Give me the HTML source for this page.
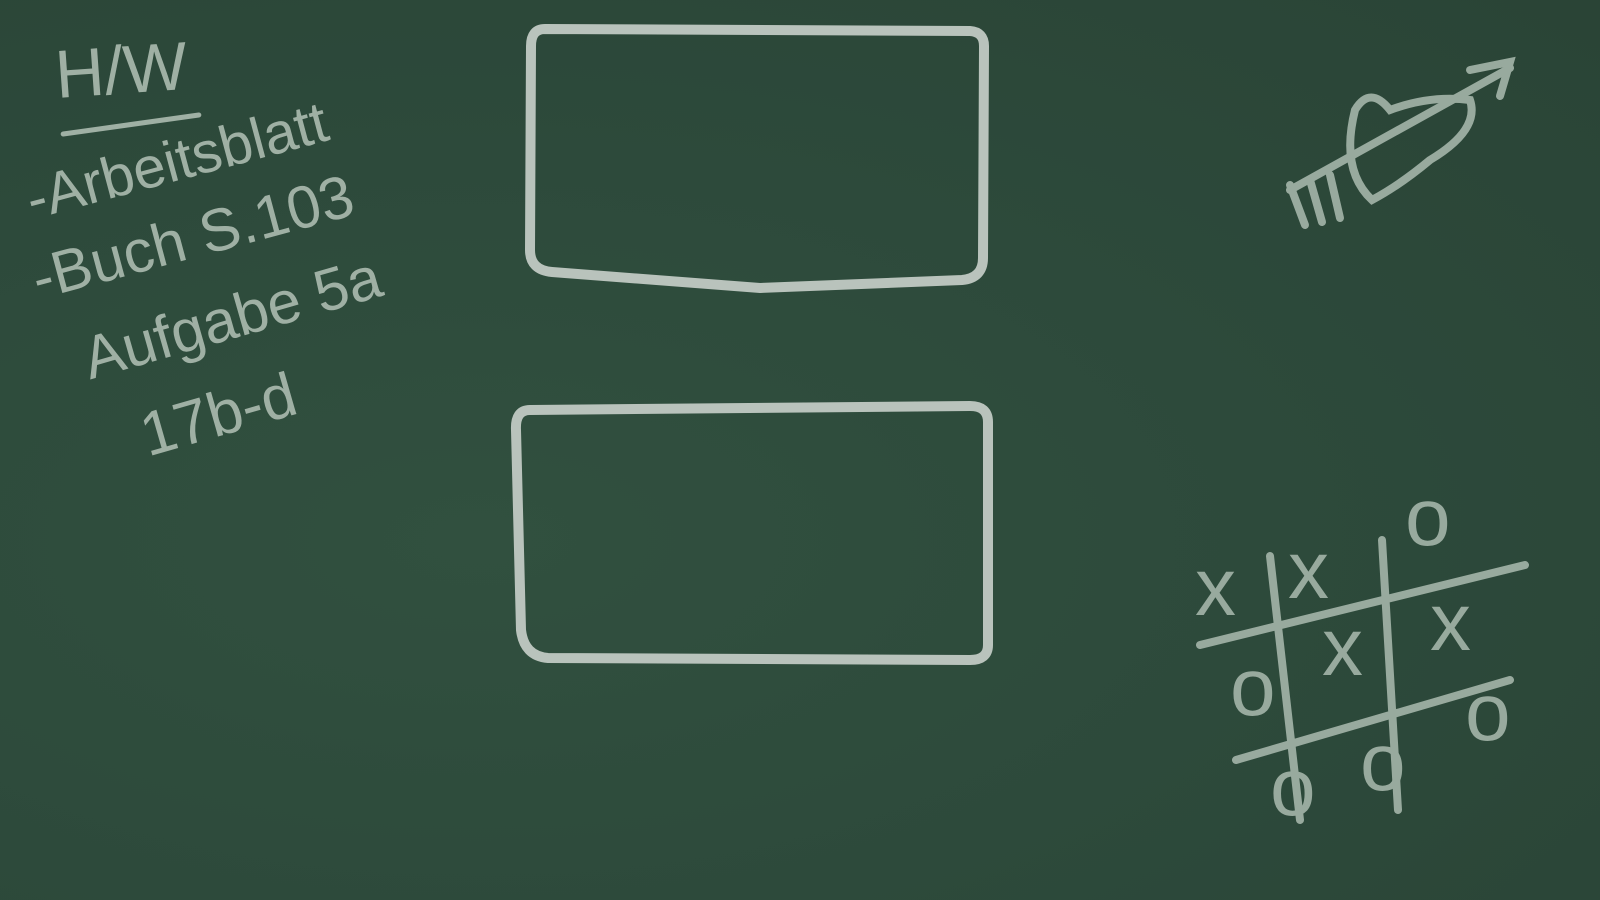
<!DOCTYPE html>
<html><head><meta charset="utf-8"><style>
html,body{margin:0;padding:0;width:1600px;height:900px;overflow:hidden;background:#2d473a}
#board{position:absolute;left:0;top:0;width:1600px;height:900px;
background:radial-gradient(ellipse at 30% 60%,#31503f 0%,#2d4a3b 50%,#2a4436 100%)}
.chalk{position:absolute;font-family:"Liberation Sans",sans-serif;color:#9fb0a4;white-space:nowrap;transform-origin:left bottom}
</style></head><body>
<div id="board">
<div class="chalk" style="left:58px;top:36px;font-size:68px;transform:rotate(-4deg)">H/W</div>
<div style="position:absolute;left:60px;top:122px;width:142px;height:5px;background:#9fb0a4;transform:rotate(-8deg);border-radius:3px"></div>
<div class="chalk" style="left:36px;top:166px;font-size:58px;transform:rotate(-15deg)">-Arbeitsblatt</div>
<div class="chalk" style="left:42px;top:244px;font-size:60px;transform:rotate(-15deg)">-Buch S.103</div>
<div class="chalk" style="left:94px;top:324px;font-size:60px;transform:rotate(-16deg)">Aufgabe 5a</div>
<div class="chalk" style="left:152px;top:400px;font-size:62px;transform:rotate(-16deg)">17b-d</div>

<svg width="1600" height="900" style="position:absolute;left:0;top:0">
<g fill="none" stroke="#b9c3bc" stroke-width="10" stroke-linecap="round">
<path d="M545,29 L970,31 Q984,32 984,46 L983,258 Q983,278 962,280 L760,288 L552,272 Q530,270 530,250 L531,46 Q531,29 545,29Z"/>
<path d="M530,410 L970,406 Q988,406 988,422 L988,645 Q988,660 970,660 L548,658 Q524,656 521,630 L516,430 Q515,410 530,410Z"/>
</g>
<g fill="none" stroke="#98aa9e" stroke-width="8" stroke-linecap="round">
<path d="M1290,190 L1510,68"/>
<path d="M1470,70 L1510,62 L1500,96"/>
<path d="M1372,200 Q1340,170 1355,110 Q1370,85 1390,110 Q1430,95 1470,100 Q1480,130 1430,160 Q1400,185 1372,200Z"/>
<path d="M1290,185 L1305,225 M1310,180 L1322,222 M1330,175 L1340,218"/>
</g>
<g fill="none" stroke="#98aa9e" stroke-width="8" stroke-linecap="round">
<path d="M1270,556 L1300,820 M1382,540 L1398,810 M1200,645 L1525,565 M1236,760 L1510,680"/>
</g>
<g font-family="Liberation Sans,sans-serif" font-size="82" fill="#98aa9e">
<text x="1195" y="615">x</text><text x="1288" y="598">x</text><text x="1405" y="545">o</text>
<text x="1230" y="715">o</text><text x="1322" y="675">x</text><text x="1430" y="650">x</text>
<text x="1270" y="815">o</text><text x="1360" y="790">o</text><text x="1465" y="740">o</text>
</g>
</svg>
</div>
</body></html>
